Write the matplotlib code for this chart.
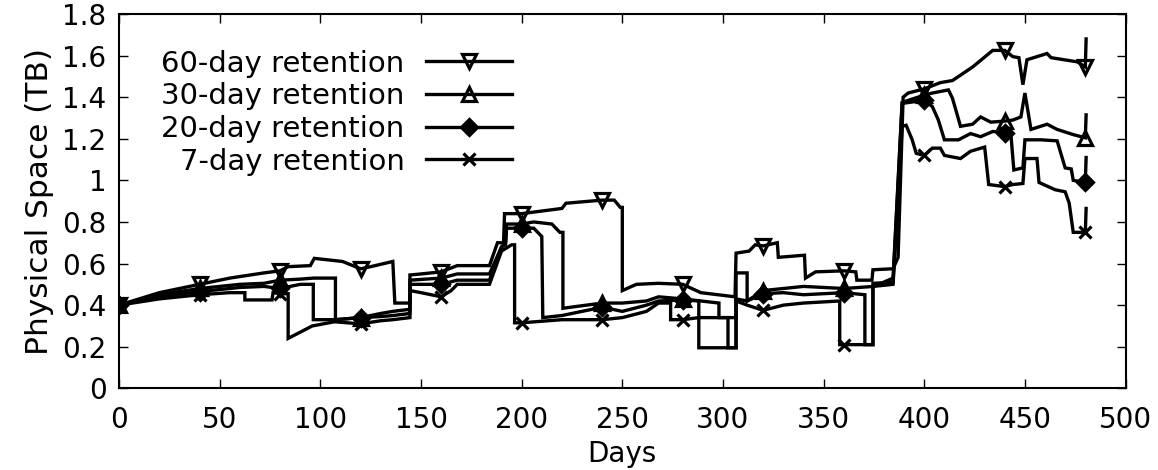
import numpy as np
import matplotlib
matplotlib.use("Agg")
import matplotlib.pyplot as plt

# breakpoints (day, TB)
d60 = [0, 20, 40, 55, 72, 80, 84, 95, 97, 111, 120, 125, 136, 137, 144.5, 144.5, 150, 160,
       168, 184, 188, 191, 191.5, 200, 220, 222, 240, 246, 249, 250, 250, 257, 268, 280, 289,
       306, 306.5, 313, 316, 320, 327, 327.5, 340.5, 341, 346, 360, 366, 366.5, 374, 374.5,
       384.5, 387, 389.5, 392, 400, 408, 414, 424, 434, 440, 444, 447, 449, 451, 461, 463,
       476, 480, 480.4]
v60 = [0.40, 0.46, 0.50, 0.53, 0.555, 0.565, 0.585, 0.59, 0.625, 0.61, 0.575, 0.585, 0.61, 0.41,
       0.41, 0.545, 0.55, 0.56, 0.59, 0.59, 0.70, 0.70, 0.84, 0.84, 0.865, 0.89, 0.905, 0.905,
       0.87, 0.87, 0.47, 0.50, 0.505, 0.50, 0.46, 0.44, 0.65, 0.66, 0.69, 0.685, 0.70, 0.63,
       0.64, 0.53, 0.56, 0.565, 0.56, 0.52, 0.52, 0.57, 0.575, 0.63, 1.40, 1.42, 1.44, 1.47,
       1.48, 1.545, 1.625, 1.625, 1.595, 1.59, 1.46, 1.58, 1.61, 1.59, 1.57, 1.545, 1.68]

d30 = [0, 20, 40, 60, 72, 80, 90, 96.5, 107.5, 107.5, 120, 130, 136, 144.5, 144.5, 160, 168,
       184, 190, 192, 192.5, 200, 206, 215, 219, 220.5, 220.5, 240, 250, 262, 268, 280, 298,
       298, 306.5, 306.5, 312, 312, 320, 330, 340, 360, 375, 384.5, 389, 400, 404, 412, 414,
       418, 424, 428, 433, 440, 444, 448, 450, 453, 461, 466, 474, 480, 480.4]
v30 = [0.40, 0.45, 0.48, 0.50, 0.505, 0.52, 0.525, 0.53, 0.53, 0.33, 0.34, 0.36, 0.37, 0.38,
       0.52, 0.53, 0.55, 0.55, 0.68, 0.70, 0.79, 0.79, 0.80, 0.79, 0.75, 0.75, 0.385, 0.41,
       0.41, 0.42, 0.44, 0.43, 0.41, 0.34, 0.34, 0.555, 0.555, 0.42, 0.47, 0.48, 0.49, 0.48,
       0.49, 0.53, 1.375, 1.41, 1.42, 1.435, 1.395, 1.26, 1.27, 1.305, 1.28, 1.285, 1.29,
       1.305, 1.42, 1.245, 1.27, 1.245, 1.22, 1.205, 1.315]

d20 = [0, 20, 40, 60, 72, 80, 90, 96.5, 96.5, 107.5, 120, 130, 136, 144.5, 144.5, 160, 168,
       184, 190, 192, 192.5, 200, 206, 210, 210.5, 220, 240, 250, 262, 268, 280, 288, 288,
       302.5, 302.5, 306.5, 306.5, 312, 320, 330, 340, 360, 370.5, 370.5, 374.5, 374.5, 384.5,
       389, 400, 404, 407, 410, 417, 423, 428, 434, 440, 443, 444.5, 449, 450, 458, 466, 470,
       473, 474, 480, 480.4]
v20 = [0.40, 0.44, 0.465, 0.485, 0.49, 0.48, 0.50, 0.50, 0.33, 0.33, 0.34, 0.345, 0.35, 0.36,
       0.50, 0.50, 0.52, 0.52, 0.68, 0.69, 0.77, 0.77, 0.77, 0.73, 0.34, 0.35, 0.39, 0.37,
       0.40, 0.42, 0.425, 0.42, 0.34, 0.34, 0.195, 0.195, 0.43, 0.42, 0.455, 0.46, 0.45, 0.46,
       0.45, 0.21, 0.21, 0.505, 0.51, 1.37, 1.385, 1.355, 1.29, 1.195, 1.195, 1.225, 1.21,
       1.235, 1.23, 1.225, 1.05, 1.06, 1.195, 1.195, 1.19, 1.06, 1.055, 1.00, 0.99, 1.11]

d7 = [0, 20, 40, 55, 62.5, 62.5, 76, 76.5, 80, 84, 84, 96, 107, 120, 130, 136, 144.5, 144.5,
      150, 160, 165, 168, 184, 190, 195, 196.5, 196.5, 200, 220, 240, 250, 262, 268, 274, 274,
      280, 288, 288, 306.5, 306.5, 312, 320, 330, 340, 358, 358, 360, 374.5, 374.5, 384.5,
      389, 391, 394, 396, 400, 404, 408, 410, 418, 423, 430, 432, 440, 444, 449, 450, 456,
      457, 465, 470, 472, 474, 480, 480.4]
v7 = [0.40, 0.43, 0.45, 0.46, 0.46, 0.425, 0.425, 0.46, 0.455, 0.455, 0.24, 0.30, 0.32, 0.31,
      0.325, 0.33, 0.34, 0.47, 0.46, 0.44, 0.47, 0.50, 0.50, 0.66, 0.69, 0.69, 0.315, 0.315,
      0.33, 0.33, 0.34, 0.37, 0.41, 0.41, 0.33, 0.33, 0.34, 0.195, 0.195, 0.42, 0.40, 0.375,
      0.40, 0.41, 0.42, 0.21, 0.21, 0.21, 0.49, 0.50, 1.26, 1.265, 1.195, 1.13, 1.12, 1.155,
      1.155, 1.12, 1.105, 1.14, 1.16, 0.98, 0.97, 0.98, 0.985, 1.105, 1.105, 0.99, 0.955,
      0.945, 0.89, 0.75, 0.75, 0.865]

labels = ["60-day retention", "30-day retention", "20-day retention", "7-day retention"]
marker_days = list(range(0, 481, 40))

plt.rcParams['font.family'] = ['DejaVu Sans']
plt.rcParams['font.size'] = 20

fig = plt.figure(figsize=(11.58, 4.70), dpi=100)
ax = fig.add_axes([0.1028, 0.1738, 0.8692, 0.7964])


def mark_idx(days):
    idx = []
    for m in marker_days:
        for i, d in enumerate(days):
            if d == m:
                idx.append(i)
                break
    return idx


series = [(d60, v60, 'v', 'none', 9.5), (d30, v30, '^', 'none', 9.5),
          (d20, v20, 'D', 'black', 8), (d7, v7, 'x', 'black', 9)]
for (d, v, m, fc, ms), lab in zip(series, labels):
    ax.plot(d, v, color='black', lw=2.4, marker=m, markersize=ms,
            mfc=fc, mec='black', mew=2.3, markevery=mark_idx(d), label=lab,
            solid_joinstyle='miter')

ax.set_xlim(0, 500)
ax.set_ylim(0, 1.8)
ax.set_xticks(np.arange(0, 501, 50))
ax.set_yticks(np.arange(0, 1.81, 0.2))
ax.set_yticklabels(['0', '0.2', '0.4', '0.6', '0.8', '1', '1.2', '1.4', '1.6', '1.8'])
ax.tick_params(direction='in', length=6.5, width=1.0, top=True, right=True, pad=9)
ax.tick_params(axis='x', pad=13)
for s in ax.spines.values():
    s.set_linewidth(1.5)
ax.set_xlabel("Days", labelpad=4)
ax.set_ylabel("Physical Space (TB)", fontsize=22.5, labelpad=6)

# markerfirst=False right-aligns the rows, like gnuplot's key
ax.legend(loc='upper left', bbox_to_anchor=(0.042, 0.905), frameon=False,
          markerfirst=False, handlelength=2.95, handletextpad=0.72,
          labelspacing=0.16, borderpad=0, borderaxespad=0, fontsize=21)

fig.savefig("out.png", dpi=100)
